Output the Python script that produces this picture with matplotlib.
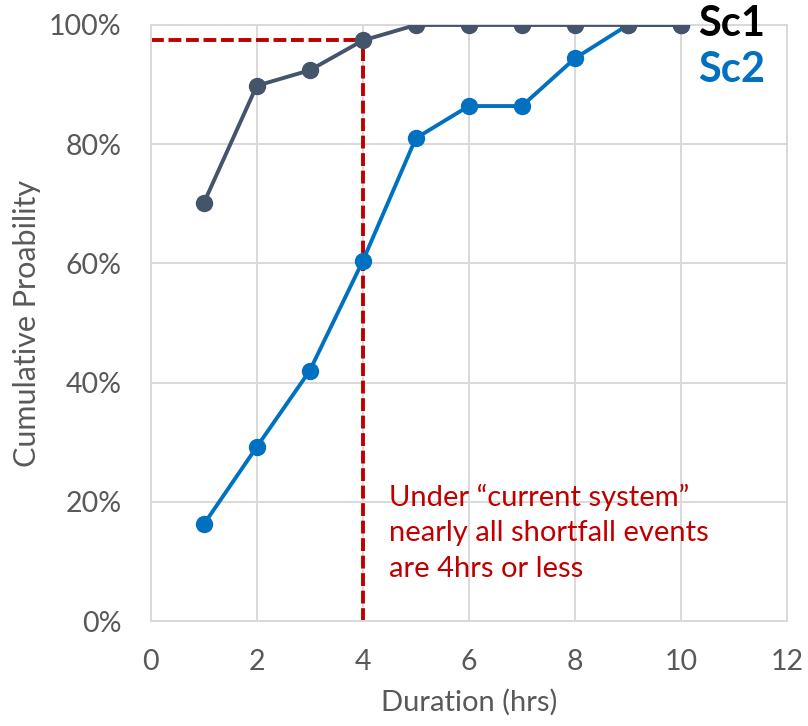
import matplotlib
matplotlib.use("Agg")
import matplotlib.pyplot as plt
from matplotlib.ticker import PercentFormatter

# data
duration = [1, 2, 3, 4, 5, 6, 7, 8, 9, 10]
sc1 = [70.1, 89.8, 92.4, 97.4, 100, 100, 100, 100, 100, 100]
sc2 = [16.2, 29.2, 42.0, 60.4, 81.0, 86.4, 86.4, 94.4, 100, 100]
cut_x = 4
cut_y = 97.4
note = "Under \u201ccurrent system\u201d\nnearly all shortfall events\nare 4hrs or less"

plt.rcParams['font.family'] = ['Lato', 'DejaVu Sans']
grey = '#595959'
grid_c = '#D9D9D9'

fig = plt.figure(figsize=(8.08, 7.26), dpi=100)
ax = fig.add_axes([0.1865, 0.1446, 0.7875, 0.821])

ax.plot(duration, sc2, color='#0070C0', lw=2.8, marker='o', ms=11.5, zorder=3)
ax.plot(duration, sc1, color='#44546A', lw=2.8, marker='o', ms=11.5, zorder=4)

# red dashed guide lines
ax.plot([0, cut_x], [cut_y, cut_y], color='#C00000', lw=2.8, ls=(0, (3.3, 1.2)), zorder=2)
ax.plot([cut_x, cut_x], [0, cut_y], color='#C00000', lw=2.8, ls=(0, (3.3, 1.2)), zorder=2)

ax.text(4.5, 14.8, note, color='#C00000', fontsize=21, va='center', ha='left',
        linespacing=1.45)
ax.text(10.33, 100.2, "Sc1", color='black', fontsize=30, fontweight='bold',
        va='center', clip_on=False)
ax.text(10.33, 92.4, "Sc2", color='#0070C0', fontsize=30, fontweight='bold',
        va='center', clip_on=False)

ax.set_xlim(0, 12)
ax.set_ylim(0, 100)
ax.set_xticks(range(0, 13, 2))
ax.set_yticks(range(0, 101, 20))
ax.yaxis.set_major_formatter(PercentFormatter(decimals=0))
ax.grid(True, color=grid_c, lw=1.4)
ax.set_axisbelow(True)
for s in ax.spines.values():
    s.set_color(grid_c)
    s.set_linewidth(1.4)
ax.tick_params(length=0, labelsize=20.5, labelcolor=grey)
ax.tick_params(axis='x', pad=20)
ax.tick_params(axis='y', pad=21)
ax.set_xlabel("Duration (hrs)", fontsize=21, color=grey, labelpad=10)
ax.set_ylabel("Cumulative Proability", fontsize=22, color=grey, labelpad=6)

fig.savefig("out.png", dpi=100)
